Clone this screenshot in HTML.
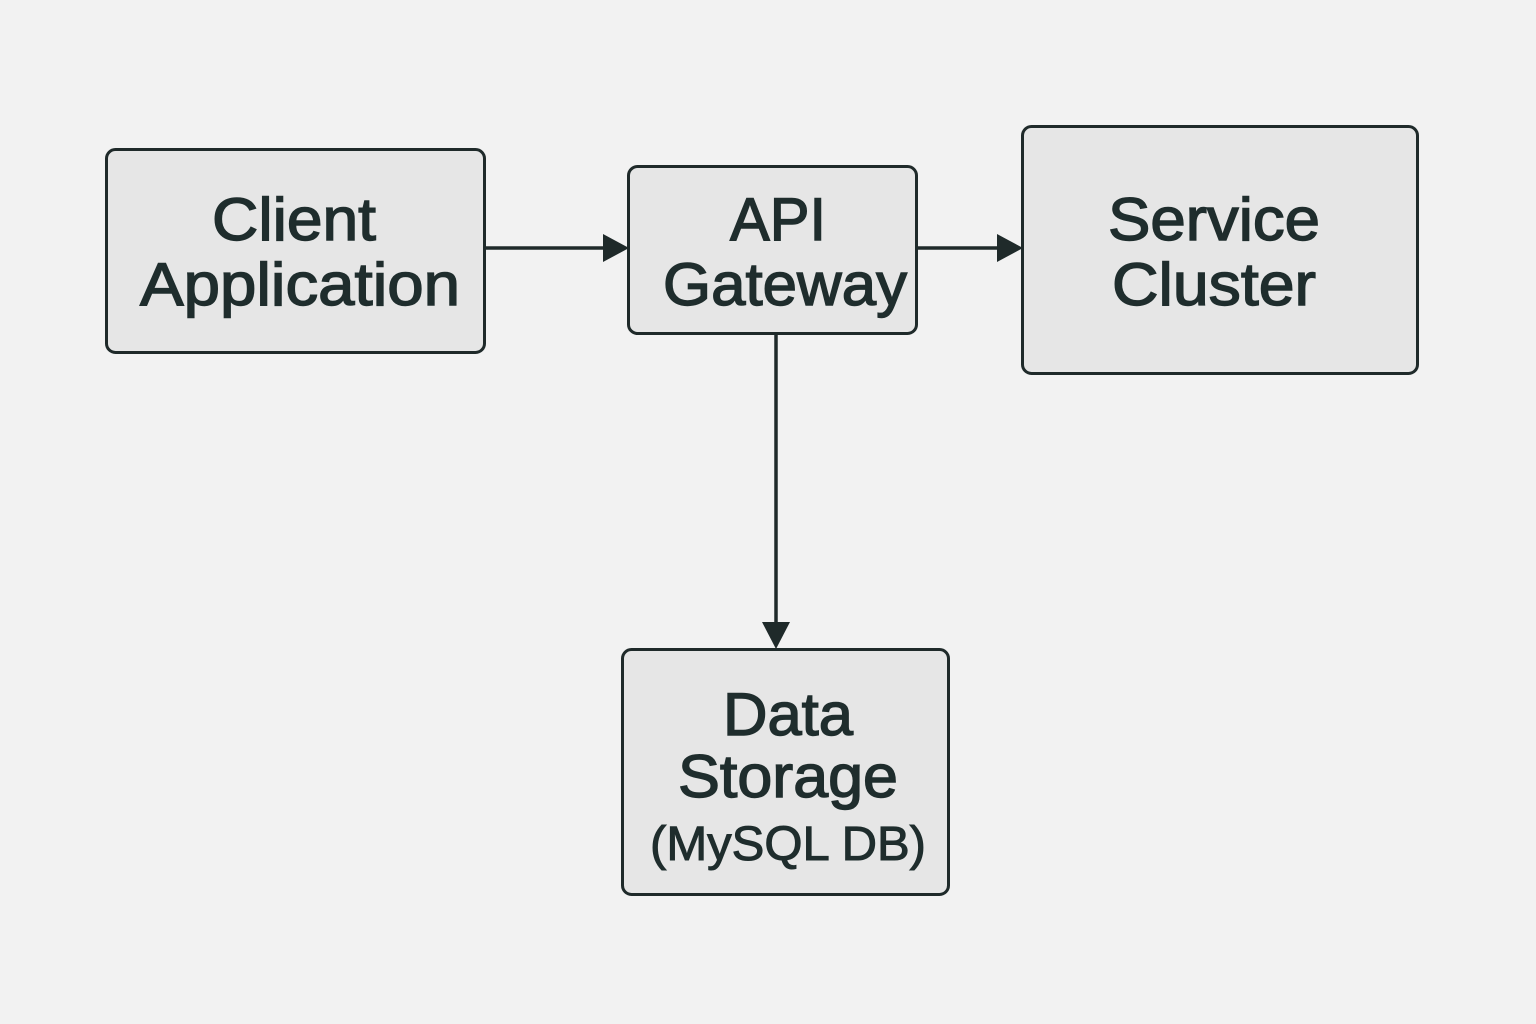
<!DOCTYPE html>
<html><head><meta charset="utf-8"><style>html,body{margin:0;padding:0;background:#f2f2f2;overflow:hidden}svg{display:block}</style></head>
<body>
<svg width="1536" height="1024" viewBox="0 0 1536 1024" xmlns="http://www.w3.org/2000/svg">
<rect width="1536" height="1024" fill="#f2f2f2"/>
<g fill="#e6e6e6" stroke="#1f2a2a" stroke-width="3">
<rect x="106.5" y="149.5" width="378" height="203" rx="9"/>
<rect x="628.5" y="166.5" width="288" height="167" rx="9"/>
<rect x="1022.5" y="126.5" width="395" height="247" rx="9"/>
<rect x="622.5" y="649.5" width="326" height="245" rx="9"/>
</g>
<g stroke="#1f2a2a" stroke-width="3.5" fill="none">
<line x1="485" y1="248" x2="608" y2="248"/>
<line x1="917" y1="248" x2="1002" y2="248"/>
<line x1="776" y1="334" x2="776" y2="626"/>
</g>
<g fill="#1f2a2a">
<polygon points="603,234 629,248 603,262"/>
<polygon points="997,234 1023,248 997,262"/>
<polygon points="762,622 790,622 776,649"/>
</g>
<g fill="#1f2d2d" stroke="#1f2d2d" stroke-width="1.4" font-family="Liberation Sans, DejaVu Sans, sans-serif" font-size="60" text-anchor="middle">
<text x="294" y="240" textLength="164" lengthAdjust="spacingAndGlyphs">Client</text>
<text x="300" y="305" textLength="320" lengthAdjust="spacingAndGlyphs">Application</text>
<text x="778" y="240" textLength="96" lengthAdjust="spacingAndGlyphs">API</text>
<text x="785" y="305" textLength="244" lengthAdjust="spacingAndGlyphs">Gateway</text>
<text x="1214" y="240" textLength="212" lengthAdjust="spacingAndGlyphs">Service</text>
<text x="1214" y="305" textLength="204" lengthAdjust="spacingAndGlyphs">Cluster</text>
<text x="788" y="735" textLength="130" lengthAdjust="spacingAndGlyphs">Data</text>
<text x="788" y="797" textLength="220" lengthAdjust="spacingAndGlyphs">Storage</text>
<text x="788" y="860" font-size="48" stroke-width="1" textLength="276" lengthAdjust="spacingAndGlyphs">(MySQL DB)</text>
</g>
</svg>
</body></html>
